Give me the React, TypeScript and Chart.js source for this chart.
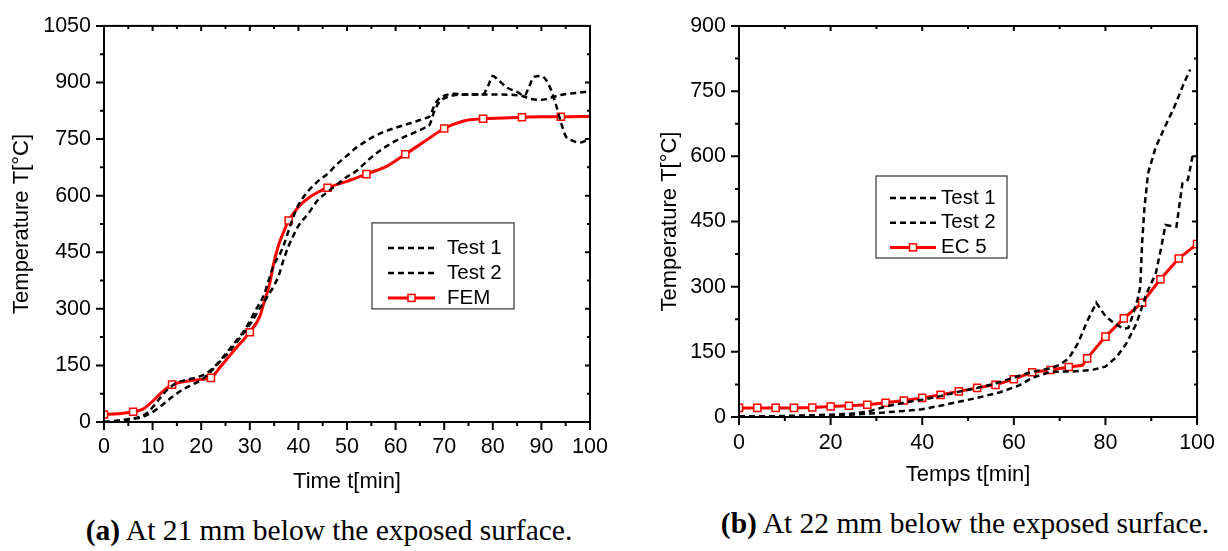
import React, { useEffect, useRef } from "react";
import { Chart, registerables } from "chart.js";

Chart.register(...registerables);

const SANS = "'Liberation Sans', Arial, Helvetica, sans-serif";
const SERIF = "'Liberation Serif', 'Times New Roman', serif";

// ---------- Panel (a): 21 mm below the exposed surface ----------
const aTest1Time = [0, 3, 5, 7, 9, 11, 13, 15, 17, 19, 21, 23, 25, 27, 29, 31, 33, 34, 35, 36, 37, 38, 39, 40, 42, 44, 46, 48, 50, 52, 54, 56, 58, 60, 62, 64, 66, 67, 68, 69, 70, 72, 75, 78, 79, 80, 81, 83, 85, 86.5, 87.5, 88.5, 90, 91, 92, 93, 94, 95, 96, 98, 100];
const aTest1Temp = [0, 2, 8, 12, 25, 55, 85, 104, 112, 118, 128, 150, 180, 212, 245, 292, 340, 380, 418, 440, 470, 508, 545, 575, 612, 638, 658, 684, 706, 728, 745, 760, 771, 780, 788, 796, 805, 810, 840, 858, 865, 870, 868, 869, 890, 917, 908, 886, 875, 865, 890, 915, 917, 906, 880, 841, 795, 758, 748, 741, 752];

const aTest2Time = [0, 3, 6, 8, 10, 12, 14, 16, 18, 20, 22, 24, 26, 28, 30, 32, 34, 35, 36, 37, 38, 39, 40, 42, 44, 46, 48, 50, 52, 54, 56, 58, 60, 62, 64, 66, 67, 68, 69, 70, 72, 75, 78, 82, 85, 86, 88, 90, 92, 94, 97, 100];
const aTest2Temp = [0, 4, 8, 14, 26, 45, 66, 84, 98, 111, 134, 162, 190, 223, 258, 300, 340, 362, 390, 432, 467, 495, 520, 552, 588, 610, 630, 650, 666, 690, 712, 730, 745, 757, 768, 780, 788, 825, 848, 858, 866, 868, 868, 868, 866, 864, 856, 854, 860, 867, 872, 877];

const aFemTime = [0, 3, 6, 8, 10, 12, 14, 16, 18, 20, 22, 24, 26, 28, 30, 32, 33, 34, 35, 36, 37, 38, 40, 42, 44, 46, 50, 54, 58, 62, 66, 70, 74, 78, 82, 86, 90, 94, 100];
const aFemTemp = [20, 22, 27, 34, 55, 80, 99, 106, 110, 113, 117, 147, 178, 208, 238, 278, 320, 362, 425, 472, 505, 534, 570, 593, 609, 621, 638, 657, 677, 710, 744, 778, 798, 804, 806, 808, 809, 809, 810];
const aFemMarkers = [0, 6, 14, 22, 30, 38, 46, 54, 62, 70, 78, 86, 94];

// ---------- Panel (b): 22 mm below the exposed surface ----------
const bTest1Time = [0, 8, 16, 24, 28, 32, 36, 40, 44, 48, 52, 56, 60, 64, 68, 70, 72, 74, 76, 78, 80, 82, 84, 85, 86, 87, 87.6, 88, 88.5, 89.3, 91, 93, 95, 97, 98.5];
const bTest1Temp = [2, 2, 4, 7, 12, 24, 33, 40, 48, 58, 67, 77, 91, 104, 112, 120, 135, 170, 220, 263, 232, 215, 203, 205, 235, 270, 300, 400, 480, 561, 622, 668, 713, 765, 800];

const bTest2Time = [0, 12, 24, 30, 36, 40, 44, 48, 52, 57, 61, 64, 68, 73, 77, 80, 82.5, 84.6, 86.8, 89, 91, 92.2, 93.1, 95.5, 96.8, 98, 99];
const bTest2Temp = [0, 2, 5, 9, 14, 18, 26, 35, 44, 57, 72, 90, 104, 105, 108, 116, 139, 170, 216, 285, 331, 392, 442, 438, 538, 546, 600];

const bEcTime = [0, 4, 8, 12, 16, 20, 24, 28, 32, 36, 40, 44, 48, 52, 56, 60, 64, 68, 72, 75, 76, 80, 84, 88, 92, 96, 100];
const bEcTemp = [21, 21, 21, 21, 22, 24, 26, 28, 33, 38, 44, 51, 59, 67, 74, 87, 103, 108, 115, 119, 135, 185, 227, 263, 317, 365, 398];
const bEcMarkers = [0, 4, 8, 12, 16, 20, 24, 28, 32, 36, 40, 44, 48, 52, 56, 60, 64, 68, 72, 76, 80, 84, 88, 92, 96, 100];

function pts(xs: number[], ys: number[]) {
  return xs.map((x, i) => ({ x, y: ys[i] }));
}

// Axis frame with Origin-style major/minor ticks (outward on bottom/left, inward on top/right)
const frameTicks = {
  id: "frameTicks",
  afterDraw(chart: any, _args: any, o: any) {
    const { ctx, chartArea: a } = chart;
    const xs = chart.scales.x;
    const ys = chart.scales.y;
    ctx.save();
    ctx.strokeStyle = "#000";
    ctx.lineWidth = 2;
    ctx.lineCap = "butt";
    ctx.beginPath();
    const isMajor = (v: number, step: number) => Math.abs(v / step - Math.round(v / step)) < 1e-6;
    for (let v = xs.min; v <= xs.max + 1e-9; v += o.xMinor) {
      const p = xs.getPixelForValue(v);
      const maj = isMajor(v, o.xMajor);
      ctx.moveTo(p, a.bottom);
      ctx.lineTo(p, a.bottom + (maj ? 8 : 4));
      ctx.moveTo(p, a.top);
      ctx.lineTo(p, a.top + (maj ? 5 : 3));
    }
    for (let v = ys.min; v <= ys.max + 1e-9; v += o.yMinor) {
      const p = ys.getPixelForValue(v);
      const maj = isMajor(v, o.yMajor);
      ctx.moveTo(a.left, p);
      ctx.lineTo(a.left - (maj ? 8 : 4), p);
      ctx.moveTo(a.right, p);
      ctx.lineTo(a.right - (maj ? 5 : 3), p);
    }
    ctx.stroke();
    ctx.strokeRect(a.left, a.top, a.right - a.left, a.bottom - a.top);
    ctx.restore();
  },
};

// Boxed legend drawn inside the plot area from the datasets' own styles
const boxLegend = {
  id: "boxLegend",
  afterDraw(chart: any, _args: any, o: any) {
    const { ctx, chartArea: ca } = chart;
    const x0 = ca.left + o.x;
    const y0 = ca.top + o.y;
    ctx.save();
    ctx.fillStyle = "#fff";
    ctx.fillRect(x0, y0, o.w, o.h);
    ctx.strokeStyle = "#333";
    ctx.lineWidth = 1.2;
    ctx.strokeRect(x0, y0, o.w, o.h);
    chart.data.datasets.forEach((ds: any, i: number) => {
      const cy = y0 + o.firstRow + i * o.rowGap;
      const lx = x0 + o.lineStart;
      ctx.beginPath();
      ctx.setLineDash(ds.borderDash || []);
      ctx.strokeStyle = ds.borderColor;
      ctx.lineWidth = ds.borderWidth;
      ctx.moveTo(lx, cy);
      ctx.lineTo(lx + o.lineLen, cy);
      ctx.stroke();
      ctx.setLineDash([]);
      if (ds.legendMarker) {
        const s = 7;
        const cx = lx + o.lineLen / 2;
        ctx.fillStyle = "#fff";
        ctx.fillRect(cx - s / 2, cy - s / 2, s, s);
        ctx.strokeStyle = ds.pointBorderColor;
        ctx.lineWidth = ds.pointBorderWidth;
        ctx.strokeRect(cx - s / 2, cy - s / 2, s, s);
      }
      ctx.fillStyle = "#000";
      ctx.font = `${o.fontSize}px ${SANS}`;
      ctx.textBaseline = "middle";
      ctx.textAlign = "left";
      ctx.fillText(ds.label, x0 + o.textStart, cy);
    });
    ctx.restore();
  },
};

function testDataset(label: string, data: any[], smooth: boolean) {
  return {
    label,
    data,
    borderColor: "#000",
    borderWidth: 2.5,
    borderDash: [6, 4],
    pointRadius: 0,
    fill: false,
    cubicInterpolationMode: smooth ? "monotone" : "default",
    tension: 0,
  };
}

function modelDataset(label: string, data: any[], markers: number[], smooth: boolean) {
  return {
    label,
    data,
    borderColor: "#ff0000",
    borderWidth: 3,
    pointStyle: "rect",
    pointRadius: (c: any) => (c.raw && markers.includes(c.raw.x) ? 5 : 0),
    pointBackgroundColor: "#fff",
    pointBorderColor: "#ff0000",
    pointBorderWidth: 1.5,
    fill: false,
    cubicInterpolationMode: smooth ? "monotone" : "default",
    tension: 0,
    legendMarker: true,
  };
}

function baseOptions(p: any) {
  const tickFont = { family: SANS, size: 21.5 };
  const titleFont = { family: SANS, size: 22 };
  const plain = (v: any) => String(v);
  return {
    animation: false,
    responsive: false,
    maintainAspectRatio: false,
    events: [],
    layout: { padding: { left: 0, top: p.padTop, right: p.padRight, bottom: 0 } },
    scales: {
      x: {
        type: "linear",
        min: 0,
        max: 100,
        ticks: { stepSize: p.xStep, padding: p.xTickPad, font: tickFont, color: "#000", maxRotation: 0, autoSkip: false, callback: plain },
        grid: { display: false, drawTicks: false },
        border: { display: false },
        title: { display: true, text: p.xTitle, font: titleFont, color: "#000", padding: { top: 0, bottom: p.xTitlePad } },
        afterFit: (s: any) => {
          s.height = p.xAxisHeight;
        },
      },
      y: {
        type: "linear",
        min: 0,
        max: p.yMax,
        ticks: { stepSize: 150, padding: 13, font: tickFont, color: "#000", autoSkip: false, callback: plain },
        grid: { display: false, drawTicks: false },
        border: { display: false },
        title: { display: true, text: "Temperature T[°C]", font: titleFont, color: "#000", padding: { top: p.yTitlePad, bottom: 0 } },
        afterFit: (s: any) => {
          s.width = p.yAxisWidth;
        },
      },
    },
    plugins: {
      legend: { display: false },
      tooltip: { enabled: false },
      frameTicks: { xMinor: p.xStep / 2, xMajor: p.xStep, yMinor: 75, yMajor: 150 },
      boxLegend: p.legend,
    },
  };
}

const configA = () => ({
  type: "line",
  data: {
    datasets: [
      testDataset("Test 1", pts(aTest1Time, aTest1Temp), true),
      testDataset("Test 2", pts(aTest2Time, aTest2Temp), true),
      modelDataset("FEM", pts(aFemTime, aFemTemp), aFemMarkers, true),
    ],
  },
  options: baseOptions({
    padTop: 20,
    padRight: 30,
    xStep: 10,
    xTickPad: 12,
    xTitle: "Time t[min]",
    xTitlePad: 5,
    xAxisHeight: 78,
    yMax: 1050,
    yTitlePad: 9,
    yAxisWidth: 104,
    legend: { x: 268, y: 197, w: 142, h: 86, firstRow: 25, rowGap: 25, lineStart: 16, lineLen: 47, textStart: 75, fontSize: 20.5 },
  }),
  plugins: [frameTicks, boxLegend],
});

const configB = () => ({
  type: "line",
  data: {
    datasets: [
      testDataset("Test 1", pts(bTest1Time, bTest1Temp), false),
      testDataset("Test 2", pts(bTest2Time, bTest2Temp), false),
      modelDataset("EC 5", pts(bEcTime, bEcTemp), bEcMarkers, false),
    ],
  },
  options: baseOptions({
    padTop: 26,
    padRight: 27,
    xStep: 20,
    xTickPad: 13,
    xTitle: "Temps t[min]",
    xTitlePad: 12,
    xAxisHeight: 83,
    yMax: 900,
    yTitlePad: 17,
    yAxisWidth: 99,
    legend: { x: 137, y: 150, w: 131, h: 82, firstRow: 22, rowGap: 24.7, lineStart: 14, lineLen: 46, textStart: 65, fontSize: 20.5 },
  }),
  plugins: [frameTicks, boxLegend],
});

function ChartCanvas({ make, left, width, height }: { make: () => any; left: number; width: number; height: number }) {
  const ref = useRef<HTMLCanvasElement | null>(null);
  useEffect(() => {
    if (!ref.current) return;
    const chart = new Chart(ref.current, make());
    return () => chart.destroy();
  }, [make]);
  return (
    <canvas
      ref={ref}
      width={width}
      height={height}
      style={{ position: "absolute", left, top: 0, width, height, display: "block" }}
    />
  );
}

const captionStyle: React.CSSProperties = {
  position: "absolute",
  fontFamily: SERIF,
  fontSize: 29.5,
  lineHeight: "32px",
  height: 32,
  textAlign: "center",
  color: "#000",
  whiteSpace: "nowrap",
};

export default function App() {
  return (
    <div style={{ position: "absolute", left: 0, top: 0, width: 1228, height: 551, background: "#fff", overflow: "hidden" }}>
      <ChartCanvas make={configA} left={0} width={620} height={500} />
      <ChartCanvas make={configB} left={640} width={588} height={500} />
      <div style={{ ...captionStyle, left: 0, width: 658, top: 514 }}>
        <b>(a)</b> At 21 mm below the exposed surface.
      </div>
      <div style={{ ...captionStyle, left: 665, width: 600, top: 507 }}>
        <b>(b)</b> At 22 mm below the exposed surface.
      </div>
    </div>
  );
}
